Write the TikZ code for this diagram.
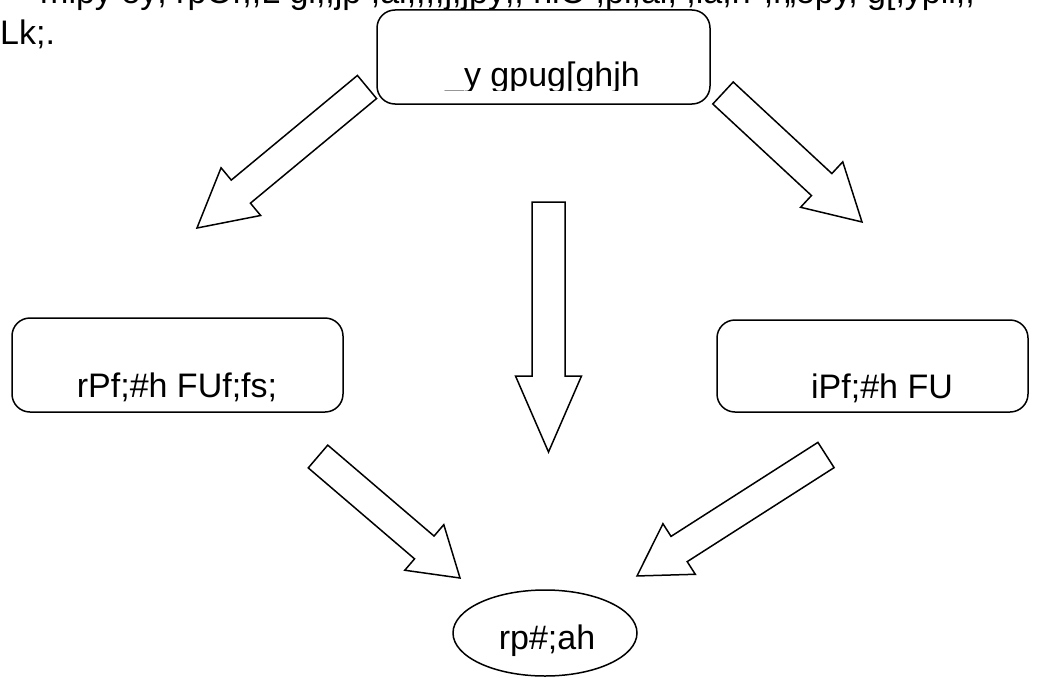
\documentclass[tikz,border=0pt]{standalone}
\usepackage{fontspec}
\setmainfont{Liberation Sans}
\usetikzlibrary{shapes.geometric}
\tikzset{
  boxshape/.style={draw, line width=1.5pt, rounded corners=18pt, fill=white, inner sep=0pt},
  ovalshape/.style={draw, line width=1.5pt, ellipse, fill=white, inner sep=0pt},
  arrowbox/.style={draw, line width=1.5pt, fill=white, line join=miter},
  txt/.style={font=\fontsize{34}{39}\selectfont, anchor=base, inner sep=0pt},
}
\newcommand\blockarr[7]{%
  \begin{scope}[shift={(#1,#2)}, rotate=#3]
    \draw[arrowbox] (0,-#5) -- ({#4-#7},-#5) -- ({#4-#7},-#6) -- (#4,0)
      -- ({#4-#7},#6) -- ({#4-#7},#5) -- (0,#5) -- cycle;
  \end{scope}}
\begin{document}
\begin{tikzpicture}[x=1pt,y=-1pt]
\useasboundingbox (0,0) rectangle (1040,677);
\clip (0,0) rectangle (1040,677);
% heading text (cut off at the top)
\node[txt, anchor=base west] (head1) at (40,4) {mlpy ey; rpOr,;L gl;,jp ;al;,;,j;jpy;, nlO ;pi,al, ;la,rr ,r,,epy, g[;ypil;,};
\node[txt, anchor=base west] (head2) at (0,45) {Lk;.};
% block arrows
\blockarr{367}{87}{-140.33}{220.9}{15}{31}{57}
\blockarr{723}{93}{-42.86}{189.6}{15}{31}{55}
\blockarr{548.5}{202}{-90}{250}{16.5}{33}{76}
\blockarr{318}{456.5}{-40.55}{186.9}{15}{30}{47}
\blockarr{826}{455}{-147.38}{224.4}{15}{30}{50}
% boxes
\node[boxshape, minimum width=333pt, minimum height=94pt] (top) at (543.5,57) {};
\node[boxshape, minimum width=331pt, minimum height=94pt] (left) at (177.5,365) {};
\node[boxshape, minimum width=311pt, minimum height=92pt] (right) at (872.5,366) {};
\node[ovalshape, minimum width=184pt, minimum height=86pt] (bottom) at (545,633) {};
% labels
\begin{scope}
\clip (377,10) rectangle (710,90.5);
\node[txt] (toplabel) at (542.5,86) {\_y gpug[ghjh};
\end{scope}
\node[txt] (leftlabel) at (177,397) {rPf;\#h FUf;fs;};
\node[txt] (rightlabel) at (882,398) {iPf;\#h FU};
\node[txt] (bottomlabel) at (547,649) {rp\#;ah};
\end{tikzpicture}
\end{document}
